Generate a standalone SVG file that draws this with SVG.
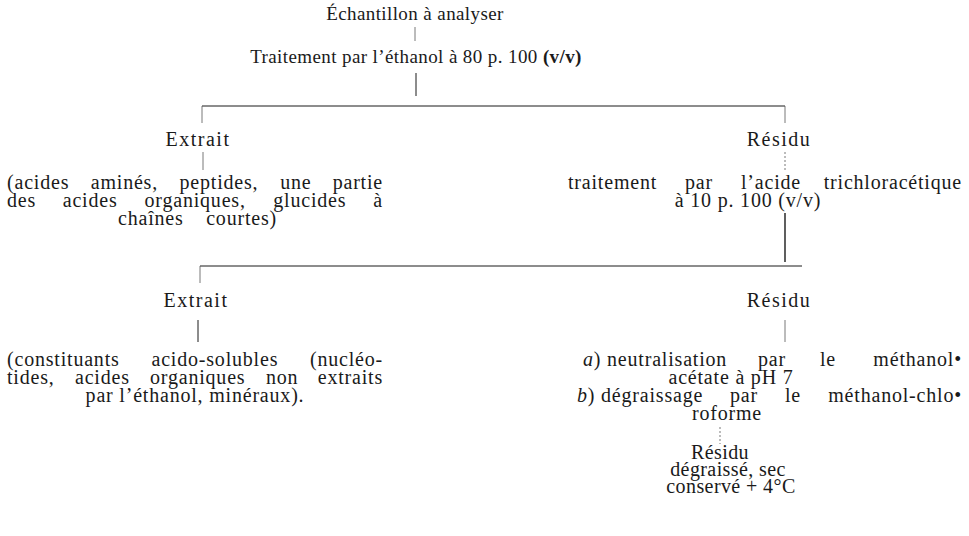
<svg xmlns="http://www.w3.org/2000/svg" width="969" height="536" viewBox="0 0 969 536">
<style>
text{font-family:"Liberation Serif","Times New Roman",serif;font-size:20px;fill:#1a1a1a;letter-spacing:0.8px}
.c{text-anchor:middle}
.top{font-size:19px;letter-spacing:0.4px}
.lbl{letter-spacing:1.5px}
.sm{letter-spacing:0.4px}
.ln{stroke:#1a1a1a;stroke-width:1;fill:none}
.thin{stroke:#555;stroke-width:0.8;fill:none}
.dot{stroke:#555;stroke-width:0.8;fill:none;stroke-dasharray:2 2}
.thick{stroke:#1a1a1a;stroke-width:1.4;fill:none}
</style>
<rect width="969" height="536" fill="#fff"/>
<g id="connectors">
<line class="thin" x1="415" y1="27" x2="415" y2="41"/>
<line class="ln" x1="416" y1="73" x2="416" y2="96"/>
<line class="ln" x1="202" y1="106" x2="785" y2="106"/>
<line class="thin" x1="202" y1="106" x2="202" y2="123"/>
<line class="thin" x1="785" y1="106" x2="785" y2="123"/>
<line class="thin" x1="203" y1="152" x2="203" y2="170"/>
<line class="dot" x1="785" y1="152" x2="785" y2="171"/>
<line class="thick" x1="785" y1="213" x2="785" y2="262"/>
<line class="ln" x1="200" y1="266" x2="802" y2="266"/>
<line class="thin" x1="200" y1="266" x2="200" y2="283"/>
<line class="ln" x1="198" y1="320" x2="198" y2="342"/>
<line class="thin" x1="785" y1="320" x2="785" y2="342"/>
<line class="dot" x1="720" y1="427" x2="720" y2="444"/>
</g>
<g id="n-echantillon"><text class="c top" x="415" y="20">Échantillon à analyser</text></g>
<g id="n-traitement-ethanol"><text class="c top" x="416" y="63">Traitement par l’éthanol à 80 p. 100 <tspan font-weight="bold">(v/v)</tspan></text></g>
<g id="n-extrait1"><text class="c lbl" x="198" y="146">Extrait</text></g>
<g id="n-extrait1-desc">
<text y="189"><tspan x="7">(acides</tspan><tspan x="90.75">aminés,</tspan><tspan x="179.5">peptides,</tspan><tspan x="280.25">une</tspan><tspan x="383" text-anchor="end">partie</tspan></text>
<text y="207"><tspan x="7">des</tspan><tspan x="62.75">acides</tspan><tspan x="144.5">organiques,</tspan><tspan x="273.25">glucides</tspan><tspan x="383" text-anchor="end">à</tspan></text>
<text y="225"><tspan x="118">chaînes</tspan><tspan x="277" text-anchor="end">courtes)</tspan></text>
</g>
<g id="n-residu1"><text class="c lbl" x="779" y="146">Résidu</text></g>
<g id="n-tca">
<text y="189"><tspan x="568">traitement</tspan><tspan x="685">par</tspan><tspan x="741">l’acide</tspan><tspan x="962" text-anchor="end">trichloracétique</tspan></text>
<text class="c" x="748" y="207">à 10 p. 100 (v/v)</text>
</g>
<g id="n-extrait2"><text class="c lbl" x="196" y="307">Extrait</text></g>
<g id="n-extrait2-desc">
<text y="366"><tspan x="7">(constituants</tspan><tspan x="151.5">acido-solubles</tspan><tspan x="383" text-anchor="end">(nucléo-</tspan></text>
<text y="384"><tspan x="7">tides,</tspan><tspan x="75">acides</tspan><tspan x="150">organiques</tspan><tspan x="266">non</tspan><tspan x="383" text-anchor="end">extraits</tspan></text>
<text class="c" x="195" y="402">par l’éthanol, minéraux).</text>
</g>
<g id="n-residu2"><text class="c lbl" x="779" y="307">Résidu</text></g>
<g id="n-neutralisation">
<text y="366"><tspan x="583"><tspan font-style="italic">a</tspan>) neutralisation</tspan><tspan x="758">par</tspan><tspan x="820">le</tspan><tspan x="962" text-anchor="end">méthanol•</tspan></text>
<text class="c" x="731" y="384">acétate à pH 7</text>
<text y="402"><tspan x="577"><tspan font-style="italic">b</tspan>) dégraissage</tspan><tspan x="730">par</tspan><tspan x="785">le</tspan><tspan x="962" text-anchor="end">méthanol-chlo•</tspan></text>
<text class="c" x="727" y="420">roforme</text>
</g>
<g id="n-residu3">
<text class="c sm" x="720" y="459">Résidu</text>
<text class="c sm" x="728" y="476">dégraissé, sec</text>
<text class="c sm" x="731" y="493">conservé + 4°C</text>
</g>
</svg>
